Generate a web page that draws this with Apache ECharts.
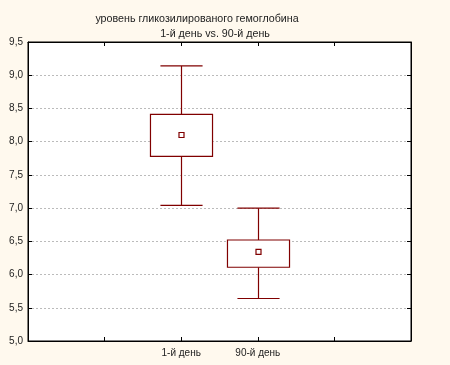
<!DOCTYPE html>
<html><head><meta charset="utf-8">
<script src="https://cdn.jsdelivr.net/npm/echarts@6/dist/echarts.min.js"></script>
<style>html,body{margin:0;padding:0;background:#FFF9EE;}#c{width:450px;height:365px;}</style>
</head><body><div id="c"></div>
<script>
const categories = ['', '', '1-й день', '90-й день', '', ''];
const boxCategoryIndex = [2, 3];
const whiskerLow = [7.04, 5.64];
const boxQ1 = [7.78, 6.11];
const boxQ3 = [8.41, 6.52];
const whiskerHigh = [9.14, 7.00];
const meanValues = [8.10, 6.34];
const titleLine1 = 'уровень гликозилированого гемоглобина';
const titleLine2 = '1-й день vs. 90-й день';

const data = boxCategoryIndex.map((c, i) => [c, whiskerLow[i], boxQ1[i], boxQ3[i], whiskerHigh[i], meanValues[i]]);
const col = '#800000';
const chart = echarts.init(document.getElementById('c'), null, {renderer: 'canvas'});
const font = 'Liberation Sans, Arial, sans-serif';
chart.setOption({
  backgroundColor: '#FFF9EE',
  animation: false,
  title: [
    {text: titleLine1, left: 192, top: 9, textAlign: 'center', textStyle: {fontSize: 10.7, fontWeight: 'normal', color: '#222', fontFamily: font}},
    {text: titleLine2, left: 210, top: 24, textAlign: 'center', textStyle: {fontSize: 10.7, fontWeight: 'normal', color: '#222', fontFamily: font}}
  ],
  grid: {left: 28, top: 42, width: 383, height: 299, show: true, backgroundColor: '#fff', borderColor: '#000', borderWidth: 1},
  xAxis: [
    {type: 'category', data: categories, boundaryGap: false, position: 'bottom',
     axisLine: {lineStyle: {color: '#000', width: 1}}, axisTick: {inside: true, length: 4, lineStyle: {color: '#000'}},
     axisLabel: {color: '#222', fontSize: 10, fontFamily: font, margin: 7, interval: 0}, splitLine: {show: false}},
    {type: 'category', data: categories, boundaryGap: false, position: 'top',
     axisLine: {lineStyle: {color: '#000'}}, axisTick: {inside: true, length: 4, lineStyle: {color: '#000'}},
     axisLabel: {show: false}, splitLine: {show: false}}
  ],
  yAxis: [
    {type: 'value', min: 5, max: 9.5, interval: 0.5, position: 'left',
     axisLine: {show: true, lineStyle: {color: '#000'}}, axisTick: {show: true, inside: true, length: 4, lineStyle: {color: '#000'}},
     axisLabel: {color: '#222', fontSize: 10, fontFamily: font, margin: 5, formatter: v => v.toFixed(1).replace('.', ',')},
     splitLine: {show: true, lineStyle: {color: '#bbb', type: [2, 2], width: 1}}},
    {type: 'value', min: 5, max: 9.5, interval: 0.5, position: 'right',
     axisLine: {show: true, lineStyle: {color: '#000'}}, axisTick: {show: true, inside: true, length: 4, lineStyle: {color: '#000'}},
     axisLabel: {show: false}, splitLine: {show: false}}
  ],
  series: [{
    type: 'custom',
    xAxisIndex: 0, yAxisIndex: 0,
    data: data,
    renderItem: function (params, api) {
      const x = api.value(0);
      const pLow = api.coord([x, api.value(1)]);
      const pQ1 = api.coord([x, api.value(2)]);
      const pQ3 = api.coord([x, api.value(3)]);
      const pHigh = api.coord([x, api.value(4)]);
      const pMean = api.coord([x, api.value(5)]);
      const band = api.size([1, 0])[0];
      const bw = band * 0.81 / 2;
      const cw = band * 0.55 / 2;
      const cx = Math.round(pLow[0]) + 0.5;
      const st = {stroke: col, lineWidth: 1.2, fill: null};
      return {type: 'group', children: [
        {type: 'line', shape: {x1: cx, y1: pHigh[1], x2: cx, y2: pQ3[1]}, style: st},
        {type: 'line', shape: {x1: cx, y1: pQ1[1], x2: cx, y2: pLow[1]}, style: st},
        {type: 'line', shape: {x1: cx - cw, y1: pHigh[1], x2: cx + cw, y2: pHigh[1]}, style: st},
        {type: 'line', shape: {x1: cx - cw, y1: pLow[1], x2: cx + cw, y2: pLow[1]}, style: st},
        {type: 'rect', shape: {x: cx - bw, y: pQ3[1], width: 2 * bw, height: pQ1[1] - pQ3[1]}, style: {stroke: col, lineWidth: 1.2, fill: '#fff'}},
        {type: 'rect', shape: {x: cx - 2.5, y: pMean[1] - 2.5, width: 5, height: 5}, style: {stroke: col, lineWidth: 1.2, fill: '#fff'}}
      ]};
    }
  }]
});
</script></body></html>
